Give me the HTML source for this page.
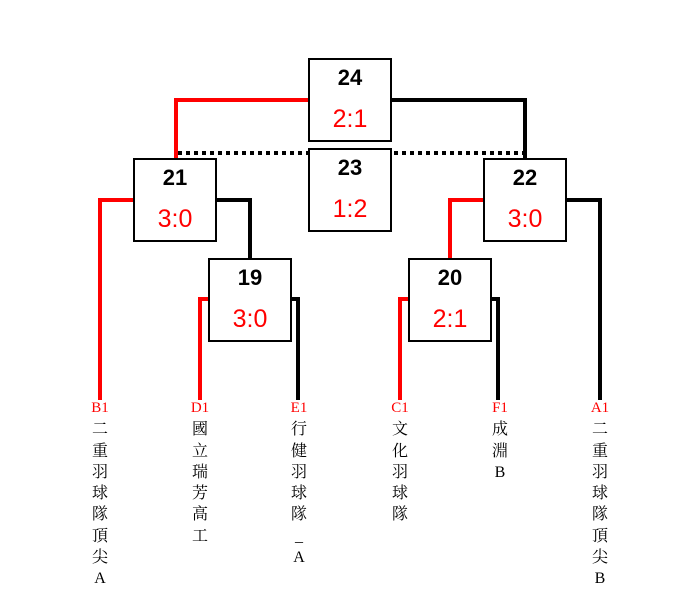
<!DOCTYPE html>
<html><head><meta charset="utf-8"><style>
body{margin:0;background:#fff;width:700px;height:600px;position:relative;overflow:hidden}
.l{position:absolute;background:#000}
.r{background:#f00}
.b{position:absolute;width:80px;height:80px;border:2px solid #000;background:#fff;text-align:center;font-family:"Liberation Sans","DejaVu Sans",sans-serif}
.b .n{position:absolute;top:5px;width:100%;font-size:22px;font-weight:bold;color:#000}
.b .s{position:absolute;top:45px;width:100%;font-size:25px;color:#f00}
.t{position:absolute;top:397px;width:30px;text-align:center;font-family:"Liberation Serif","Noto Serif CJK SC","Noto Sans CJK TC",serif;font-size:16px;line-height:21.25px;color:#000}
.t .h{color:#f00;font-size:15px}
</style></head><body>
<div class="l r" style="left:174px;top:98px;width:136px;height:4px"></div>
<div class="l r" style="left:174px;top:98px;width:4px;height:62px"></div>
<div class="l" style="left:390px;top:98px;width:137px;height:4px"></div>
<div class="l" style="left:523px;top:98px;width:4px;height:62px"></div>
<div style="position:absolute;left:178px;top:151px;width:345px;height:4px;background:repeating-linear-gradient(90deg,#000 0 4px,transparent 4px 8px)"></div>
<div class="l r" style="left:98px;top:198px;width:37px;height:4px"></div>
<div class="l r" style="left:98px;top:198px;width:4px;height:202px"></div>
<div class="l" style="left:215px;top:198px;width:37px;height:4px"></div>
<div class="l" style="left:248px;top:198px;width:4px;height:62px"></div>
<div class="l r" style="left:198px;top:297px;width:12px;height:4px"></div>
<div class="l r" style="left:198px;top:297px;width:4px;height:103px"></div>
<div class="l" style="left:290px;top:297px;width:10px;height:4px"></div>
<div class="l" style="left:296px;top:297px;width:4px;height:103px"></div>
<div class="l r" style="left:448px;top:198px;width:37px;height:4px"></div>
<div class="l r" style="left:448px;top:198px;width:4px;height:62px"></div>
<div class="l" style="left:565px;top:198px;width:37px;height:4px"></div>
<div class="l" style="left:598px;top:198px;width:4px;height:202px"></div>
<div class="l r" style="left:398px;top:297px;width:12px;height:4px"></div>
<div class="l r" style="left:398px;top:297px;width:4px;height:103px"></div>
<div class="l" style="left:490px;top:297px;width:10px;height:4px"></div>
<div class="l" style="left:496px;top:297px;width:4px;height:103px"></div>

<div class="b" style="left:308px;top:58px"><div class="n">24</div><div class="s">2:1</div></div>
<div class="b" style="left:308px;top:148px"><div class="n">23</div><div class="s">1:2</div></div>
<div class="b" style="left:133px;top:158px"><div class="n">21</div><div class="s">3:0</div></div>
<div class="b" style="left:483px;top:158px"><div class="n">22</div><div class="s">3:0</div></div>
<div class="b" style="left:208px;top:258px"><div class="n">19</div><div class="s">3:0</div></div>
<div class="b" style="left:408px;top:258px"><div class="n">20</div><div class="s">2:1</div></div>

<div class="t" style="left:85px"><span class="h">B1</span><br>二<br>重<br>羽<br>球<br>隊<br>頂<br>尖<br>A</div>
<div class="t" style="left:185px"><span class="h">D1</span><br>國<br>立<br>瑞<br>芳<br>高<br>工</div>
<div class="t" style="left:284px"><span class="h">E1</span><br>行<br>健<br>羽<br>球<br>隊<br>_<br>A</div>
<div class="t" style="left:385px"><span class="h">C1</span><br>文<br>化<br>羽<br>球<br>隊</div>
<div class="t" style="left:485px"><span class="h">F1</span><br>成<br>淵<br>B</div>
<div class="t" style="left:585px"><span class="h">A1</span><br>二<br>重<br>羽<br>球<br>隊<br>頂<br>尖<br>B</div>
</body></html>
